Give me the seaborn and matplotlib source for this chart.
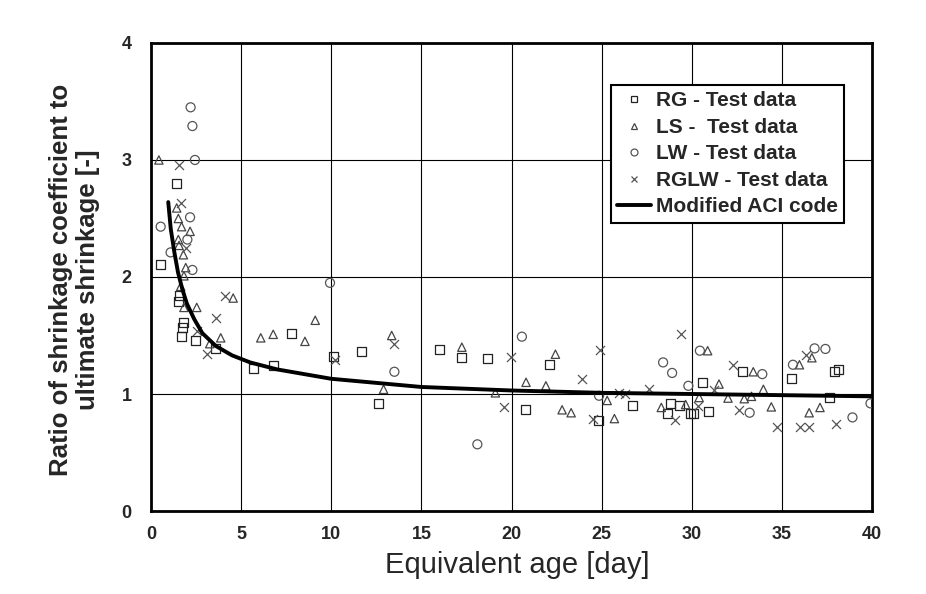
import pandas as pd
import numpy as np
import seaborn as sns
import matplotlib.pyplot as plt
from matplotlib.lines import Line2D

# RG - Test data (squares)
rg_age = [1.43, 0.54, 1.61, 1.52, 1.83, 1.74, 1.70, 2.48, 3.56, 5.67, 6.78, 7.81, 10.1, 11.65,
          12.6, 16.0, 17.2, 18.65, 20.76, 22.1, 24.8, 26.7, 28.65, 28.8, 29.3, 29.9, 30.1,
          30.6, 30.9, 32.8, 35.5, 37.65, 37.9, 38.1]
rg_ratio = [2.80, 2.11, 1.84, 1.79, 1.61, 1.57, 1.49, 1.46, 1.39, 1.22, 1.24, 1.52, 1.32, 1.36,
            0.92, 1.38, 1.31, 1.30, 0.865, 1.25, 0.77, 0.90, 0.83, 0.92, 0.90, 0.83, 0.83,
            1.10, 0.85, 1.19, 1.13, 0.97, 1.19, 1.21]

# LS - Test data (triangles)
ls_age = [0.44, 1.43, 1.52, 1.70, 2.17, 1.52, 1.56, 1.80, 1.93, 1.83, 1.65, 1.83, 2.54, 4.56,
          3.87, 3.26, 6.09, 6.78, 8.54, 9.11, 13.35, 12.9, 17.24, 19.1, 20.8, 21.9, 22.43,
          22.8, 23.3, 25.3, 25.7, 28.3, 29.65, 30.4, 30.87, 31.5, 32.0, 32.9, 33.3, 33.4,
          33.96, 34.4, 35.96, 36.65, 36.5, 37.1]
ls_ratio = [3.00, 2.59, 2.50, 2.43, 2.39, 2.32, 2.27, 2.19, 2.08, 2.01, 1.92, 1.74, 1.74, 1.82,
            1.48, 1.43, 1.48, 1.51, 1.45, 1.63, 1.50, 1.04, 1.40, 1.01, 1.10, 1.07, 1.34,
            0.865, 0.84, 0.945, 0.79, 0.885, 0.91, 0.97, 1.37, 1.085, 0.965, 0.96, 0.98, 1.19,
            1.04, 0.89, 1.25, 1.31, 0.84, 0.885]

# LW - Test data (circles)
lw_age = [2.2, 2.3, 2.44, 2.17, 0.54, 2.02, 1.09, 2.3, 9.93, 13.5, 20.57, 18.1, 24.85, 28.4,
          28.9, 29.8, 30.44, 33.2, 33.9, 35.6, 36.8, 37.4, 38.9, 39.9]
lw_ratio = [3.45, 3.29, 3.00, 2.51, 2.43, 2.32, 2.21, 2.06, 1.95, 1.19, 1.49, 0.57, 0.985, 1.27,
            1.18, 1.07, 1.37, 0.84, 1.17, 1.25, 1.39, 1.385, 0.80, 0.92]

# RGLW - Test data (crosses)
rglw_age = [1.56, 1.65, 1.93, 4.11, 3.59, 2.57, 3.13, 10.2, 13.5, 19.98, 19.56, 23.9, 24.9,
            24.5, 25.96, 26.3, 27.6, 29.4, 29.06, 30.35, 31.2, 32.3, 32.6, 34.7, 36.3, 36.0,
            36.5, 38.0]
rglw_ratio = [2.96, 2.63, 2.25, 1.84, 1.65, 1.54, 1.34, 1.29, 1.43, 1.32, 0.885, 1.13, 1.38,
              0.785, 1.01, 1.00, 1.04, 1.51, 0.78, 0.90, 1.03, 1.25, 0.865, 0.72, 1.33, 0.72,
              0.72, 0.745]

# Modified ACI code curve
aci_age = [0.96, 1.1, 1.3, 1.5, 1.75, 2.0, 2.4, 2.85, 3.6, 4.5, 5.5, 7, 10, 15, 20, 25, 30, 35, 40]
aci_ratio = [2.64, 2.41, 2.21, 2.04, 1.89, 1.77, 1.64, 1.52, 1.41, 1.33, 1.27, 1.21, 1.13, 1.06,
             1.03, 1.01, 1.00, 0.99, 0.98]

x_ticks = [0, 5, 10, 15, 20, 25, 30, 35, 40]
y_ticks = [0, 1, 2, 3, 4]

sns.set_style("white")
plt.rcParams['font.family'] = ['Liberation Sans', 'DejaVu Sans']

fig = plt.figure(figsize=(9.26, 5.94), dpi=100)
ax = fig.add_axes([0.163, 0.1397, 0.779, 0.788])

groups = [
    ("RG - Test data", rg_age, rg_ratio, "s", "#222222", 42),
    ("LS -  Test data", ls_age, ls_ratio, "^", "#444444", 36),
    ("LW - Test data", lw_age, lw_ratio, "o", "#555555", 42),
    ("RGLW - Test data", rglw_age, rglw_ratio, "x", "#555555", 42),
]
handles = []
for name, xs, ys, mk, col, size in groups:
    df = pd.DataFrame({"age": xs, "ratio": ys})
    if mk == "x":
        sns.scatterplot(data=df, x="age", y="ratio", marker=mk, color=col, s=size,
                        linewidth=0.9, ax=ax, zorder=3)
        handles.append(Line2D([], [], ls="none", marker=mk, color=col, markersize=5,
                              markeredgewidth=0.9, label=name))
    else:
        sns.scatterplot(data=df, x="age", y="ratio", marker=mk, s=size, facecolor="none",
                        edgecolor=col, linewidth=0.9, ax=ax, zorder=3)
        handles.append(Line2D([], [], ls="none", marker=mk, markerfacecolor="none",
                              markeredgecolor=col, markersize=5, markeredgewidth=0.9, label=name))

aci = pd.DataFrame({"age": aci_age, "ratio": aci_ratio})
sns.lineplot(data=aci, x="age", y="ratio", color="black", linewidth=2.8, sort=False,
             estimator=None, ax=ax, zorder=4)
handles.append(Line2D([], [], color="black", linewidth=2.8, label="Modified ACI code"))

ax.set_xlim(0, 40)
ax.set_ylim(0, 4)
ax.set_xticks(x_ticks)
ax.set_yticks(y_ticks)
ax.grid(True, color="black", linewidth=0.8)
ax.set_axisbelow(True)
for sp in ax.spines.values():
    sp.set_linewidth(2)
    sp.set_color("black")
ax.tick_params(length=0)
ax.tick_params(axis="y", pad=14)
ax.tick_params(axis="x", pad=11)
for lab in ax.get_xticklabels() + ax.get_yticklabels():
    lab.set_fontweight("bold")
    lab.set_fontsize(13)

ax.set_xlabel("Equivalent age [day]", fontsize=21)
ax.xaxis.set_label_coords(0.508, -0.085)
ax.set_ylabel("Ratio of shrinkage coefficient to\nultimate shrinkage [-]",
              fontsize=18.5, fontweight="bold", linespacing=1.15)
ax.yaxis.set_label_coords(-0.071, 0.494)

leg = ax.legend(handles=handles, loc="upper right", bbox_to_anchor=(0.961, 0.91),
                frameon=True, fancybox=False, edgecolor="black", framealpha=1,
                prop={"weight": "bold", "size": 15}, handlelength=1.6,
                handletextpad=0.25, labelspacing=0.36, borderpad=0.3, borderaxespad=0)
leg.get_frame().set_linewidth(1.5)

fig.savefig("out.png", dpi=100)
